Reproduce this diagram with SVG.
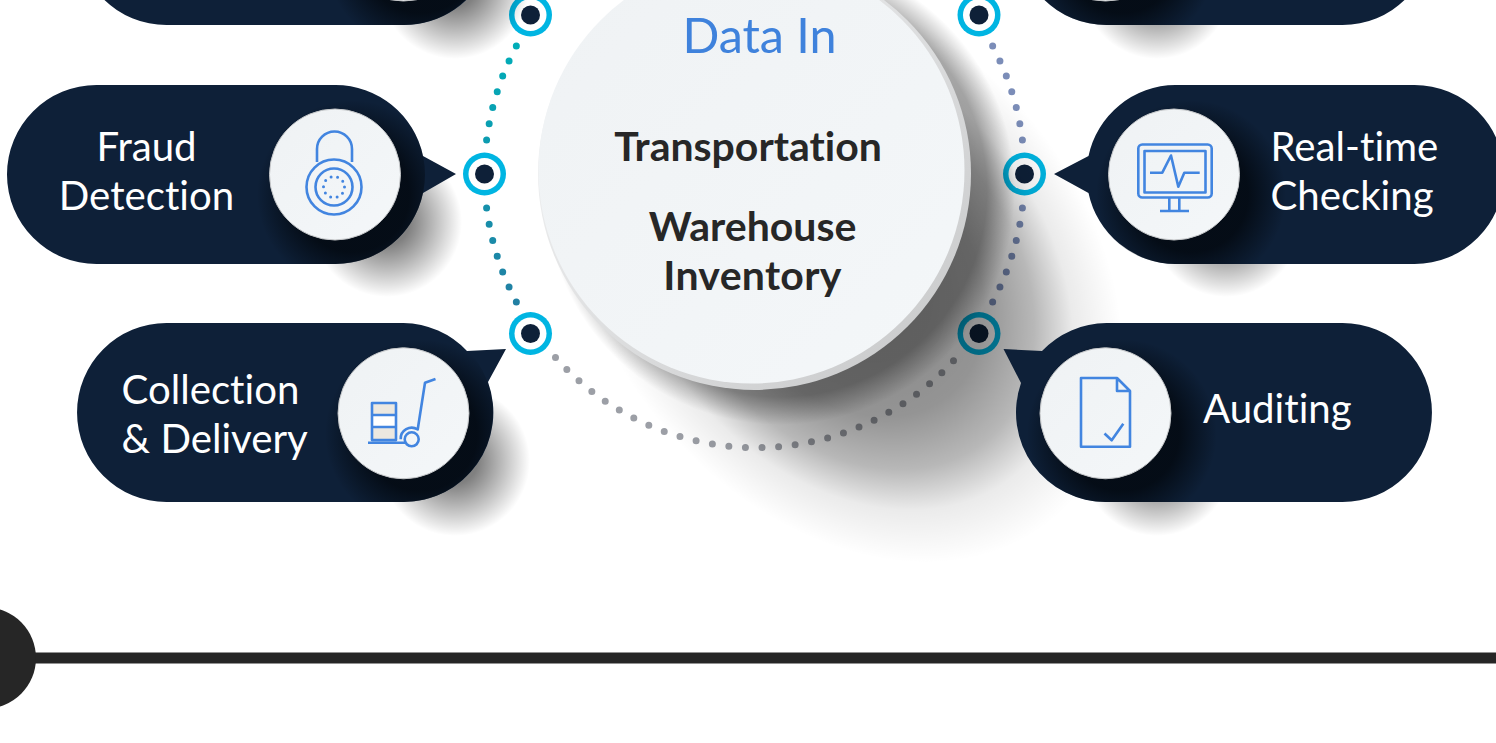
<svg xmlns="http://www.w3.org/2000/svg" width="1496" height="743" viewBox="0 0 1496 743">
<style>
text{font-family:Lato,"Liberation Sans",sans-serif;font-variant-ligatures:none}
.lbl{font-size:40.2px;fill:#fff;font-weight:400}
.hub{font-size:41px;fill:#272727;font-weight:700}
.pill{fill:#0e2038}
.pad{fill:url(#padShadow)}
.inner{fill:url(#innerShadow)}
.disc{fill:url(#discFill);stroke:#c4c6c8;stroke-width:1}
.ico{fill:none;stroke:#4285e0;stroke-width:2.6;stroke-linejoin:round}
.pins{fill:none;stroke:#4285e0;stroke-width:3;stroke-linecap:round;stroke-dasharray:0 6.6}
.dots{fill:none;stroke-width:7;stroke-linecap:round;stroke-dasharray:0 16.5}
.ro{fill:#00b5e2}.rw{fill:#fff}.rn{fill:#0e2038}
</style>
<defs>
<radialGradient id="padShadow"><stop offset="0.3" stop-color="#000" stop-opacity="0.5"/><stop offset="1" stop-color="#000" stop-opacity="0"/></radialGradient>
<radialGradient id="innerShadow"><stop offset="0.6" stop-color="#02070d" stop-opacity="0.78"/><stop offset="1" stop-color="#02070d" stop-opacity="0"/></radialGradient>
<radialGradient id="hubShadow"><stop offset="0" stop-color="#000" stop-opacity="0.5"/><stop offset="0.5" stop-color="#000" stop-opacity="0.42"/><stop offset="0.68" stop-color="#000" stop-opacity="0.28"/><stop offset="0.82" stop-color="#000" stop-opacity="0.08"/><stop offset="1" stop-color="#000" stop-opacity="0"/></radialGradient>
<radialGradient id="hubContact"><stop offset="0.88" stop-color="#000" stop-opacity="0.32"/><stop offset="1" stop-color="#000" stop-opacity="0"/></radialGradient>
<linearGradient id="discFill" x1="0" y1="0" x2="1" y2="1"><stop offset="0" stop-color="#eff2f4"/><stop offset="1" stop-color="#f4f7f9"/></linearGradient>
<linearGradient id="rim" x1="0.15" y1="0.15" x2="0.85" y2="0.85"><stop offset="0" stop-color="#f2f3f4"/><stop offset="0.55" stop-color="#dcddde"/><stop offset="1" stop-color="#cdcecf"/></linearGradient>
<linearGradient id="tealDots" gradientUnits="userSpaceOnUse" x1="0" y1="45" x2="0" y2="305"><stop offset="0" stop-color="#00adb8"/><stop offset="1" stop-color="#227fa3"/></linearGradient>
<clipPath id="cTL"><path d="M166.5,-154H403.5A89.5,89.5 0 1 1 403.5,25H166.5A89.5,89.5 0 0 1 166.5,-154Z"/></clipPath>
<clipPath id="cTR"><path d="M1106.5,-154H1342.5A89.5,89.5 0 1 1 1342.5,25H1106.5A89.5,89.5 0 0 1 1106.5,-154Z"/></clipPath>
<clipPath id="cF"><path d="M96.5,85H335.5A89.5,89.5 0 0 1 335.5,264H96.5A89.5,89.5 0 0 1 96.5,85Z"/></clipPath>
<clipPath id="cR"><path d="M1175.5,85H1414.5A89.5,89.5 0 0 1 1414.5,264H1175.5A89.5,89.5 0 0 1 1175.5,85Z"/></clipPath>
<clipPath id="cC"><path d="M166.5,323H403.5A89.5,89.5 0 0 1 403.5,502H166.5A89.5,89.5 0 0 1 166.5,323Z"/></clipPath>
<clipPath id="cA"><path d="M1106.5,323H1342.5A89.5,89.5 0 0 1 1342.5,502H1106.5A89.5,89.5 0 0 1 1106.5,323Z"/></clipPath>
</defs>
<rect width="1496" height="743" fill="#fff"/>

<g id="connectors">
<path class="dots" stroke="url(#tealDots)" d="M486.6,140A270,273 0 0 1 518,43"/>
<path class="dots" stroke="url(#tealDots)" d="M486.6,208A270,273 0 0 0 518,305"/>
<path class="dots" stroke="#7b8db8" d="M1022.4,140A270,273 0 0 0 991,43"/>
<path class="dots" stroke="#7b8db8" d="M1022.4,208A270,273 0 0 1 991,305"/>
<path class="dots" style="stroke-dasharray:0 16.6" stroke="#9c9fa6" d="M555.5,357.5A270,273 0 0 0 956.5,357.5"/>
</g>

<g id="port-1"><circle class="ro" cx="530.5" cy="15" r="21.5"/><circle class="rw" cx="530.5" cy="15" r="16"/><circle class="rn" cx="530.5" cy="15" r="9.5"/></g>
<g id="port-2"><circle class="ro" cx="484.5" cy="174" r="21.5"/><circle class="rw" cx="484.5" cy="174" r="16"/><circle class="rn" cx="484.5" cy="174" r="9.5"/></g>
<g id="port-3"><circle class="ro" cx="530.5" cy="333.5" r="21.5"/><circle class="rw" cx="530.5" cy="333.5" r="16"/><circle class="rn" cx="530.5" cy="333.5" r="9.5"/></g>
<g id="port-4"><circle class="ro" cx="979" cy="15" r="21.5"/><circle class="rw" cx="979" cy="15" r="16"/><circle class="rn" cx="979" cy="15" r="9.5"/></g>
<g id="port-5"><circle class="ro" cx="1024.5" cy="174" r="21.5"/><circle class="rw" cx="1024.5" cy="174" r="16"/><circle class="rn" cx="1024.5" cy="174" r="9.5"/></g>
<g id="port-6"><circle class="ro" cx="979" cy="333.5" r="21.5"/><circle class="rw" cx="979" cy="333.5" r="16"/><circle class="rn" cx="979" cy="333.5" r="9.5"/></g>

<ellipse id="hub-shadow" cx="845" cy="270" rx="325" ry="240" transform="rotate(50 845 270)" fill="url(#hubShadow)"/>
<circle id="hub-contact" cx="780" cy="190" r="235" fill="url(#hubContact)"/>

<g id="node-top-left">
<circle class="pad" cx="455" cy="-16" r="75"/>
<path class="pill" d="M166.5,-154H403.5A89.5,89.5 0 0 1 467,-2L506,-2L488,-33A89.5,89.5 0 0 1 403.5,25H166.5A89.5,89.5 0 0 1 166.5,-154Z"/>
<g clip-path="url(#cTL)"><circle class="inner" cx="420" cy="-44" r="95"/></g>
<circle class="disc" cx="403.5" cy="-64.5" r="65.5"/>
</g>

<g id="node-top-right">
<circle class="pad" cx="1157" cy="-16" r="75"/>
<path class="pill" d="M1106.5,-154H1342.5A89.5,89.5 0 0 1 1342.5,25H1106.5A89.5,89.5 0 0 1 1106.5,-154Z"/>
<g clip-path="url(#cTR)"><circle class="inner" cx="1122" cy="-44" r="95"/></g>
<circle class="disc" cx="1105.5" cy="-64.5" r="65.5"/>
</g>

<g id="node-fraud">
<circle class="pad" cx="387" cy="222" r="75"/>
<path class="pill" d="M96.5,85H335.5A89.5,89.5 0 0 1 423,156L456,174L423,193A89.5,89.5 0 0 1 335.5,264H96.5A89.5,89.5 0 0 1 96.5,85Z"/>
<g clip-path="url(#cF)"><circle class="inner" cx="352" cy="195" r="95"/></g>
<circle class="disc" cx="335" cy="174.5" r="65.5"/>
<path class="ico" d="M317,162V149A17.5,17.5 0 0 1 352,149V162"/>
<circle class="ico" cx="334" cy="187" r="27.5"/><circle class="ico" cx="334" cy="187" r="18.5"/>
<circle class="pins" cx="334" cy="187" r="10.5"/>
<text class="lbl" x="146.5" y="161" text-anchor="middle">Fraud</text>
<text class="lbl" x="146.5" y="210" text-anchor="middle">Detection</text>
</g>

<g id="node-realtime">
<circle class="pad" cx="1226" cy="222" r="75"/>
<path class="pill" d="M1175.5,85H1414.5A89.5,89.5 0 0 1 1414.5,264H1175.5A89.5,89.5 0 0 1 1088.5,193L1054,174L1088.5,156A89.5,89.5 0 0 1 1175.5,85Z"/>
<g clip-path="url(#cR)"><circle class="inner" cx="1191" cy="195" r="95"/></g>
<circle class="disc" cx="1174" cy="174.5" r="65.5"/>
<rect class="ico" x="1138.3" y="144.5" width="73.4" height="53" rx="4"/>
<rect class="ico" x="1144.5" y="151" width="61" height="41.5"/>
<path class="ico" d="M1150,172.7H1162.3L1171,155.5L1178.3,186.7L1184.3,172.7H1199.7"/>
<path class="ico" d="M1169.3,198V211M1179.3,198V211M1160,211H1189"/>
<text class="lbl" x="1270.5" y="161">Real-time</text>
<text class="lbl" x="1270.5" y="210">Checking</text>
</g>

<g id="node-collection">
<circle class="pad" cx="455" cy="461" r="75"/>
<path class="pill" d="M166.5,323H403.5A89.5,89.5 0 0 1 467,351L506,349L488,382A89.5,89.5 0 0 1 403.5,502H166.5A89.5,89.5 0 0 1 166.5,323Z"/>
<g clip-path="url(#cC)"><circle class="inner" cx="420" cy="434" r="95"/></g>
<circle class="disc" cx="403.5" cy="413.3" r="65.5"/>
<rect x="372" y="403" width="24" height="12" fill="#ece8e0"/><rect x="372" y="415" width="24" height="12" fill="#fff"/><rect x="372" y="427" width="24" height="13" fill="#ece8e0"/>
<path class="ico" d="M372,403H396V440H372ZM372,415H396M372,427H396M368,442.8H405"/>
<circle class="ico" cx="411.7" cy="439.3" r="7"/>
<path class="ico" d="M400.7,439.3A11,11 0 0 1 417.7,429.5L425,382.7L435.5,379"/>
<text class="lbl" x="121.5" y="404">Collection</text>
<text class="lbl" x="121.5" y="453">&amp; Delivery</text>
</g>

<g id="node-auditing">
<circle class="pad" cx="1157" cy="461" r="75"/>
<path class="pill" d="M1106.5,323H1342.5A89.5,89.5 0 0 1 1342.5,502H1106.5A89.5,89.5 0 0 1 1021,383L1003.5,349L1042,351A89.5,89.5 0 0 1 1106.5,323Z"/>
<g clip-path="url(#cA)"><circle class="inner" cx="1122" cy="434" r="95"/></g>
<circle class="disc" cx="1105.5" cy="413.3" r="65.5"/>
<path class="ico" d="M1081,378H1117L1130,391V446.7H1081ZM1117,378V391H1130"/>
<path class="ico" d="M1104.5,433.5L1111.7,440.3L1123.3,423.7"/>
<text class="lbl" x="1203" y="423">Auditing</text>
</g>

<g id="node-hub">
<circle cx="754.5" cy="173.5" r="216.5" fill="url(#rim)"/>
<circle cx="751.5" cy="170.5" r="213" fill="url(#discFill)"/>
<text x="759.5" y="53" text-anchor="middle" font-size="48.5" fill="#3f82dc">Data In</text>
<text class="hub" x="748" y="161" text-anchor="middle">Transportation</text>
<text class="hub" x="752.5" y="241" text-anchor="middle">Warehouse</text>
<text class="hub" x="752.5" y="290" text-anchor="middle" letter-spacing="0.3">Inventory</text>
</g>

<g id="timeline">
<rect x="20" y="652.5" width="1476" height="11" fill="#262626"/>
<circle cx="-14.5" cy="658" r="50.5" fill="#262626"/>
</g>
</svg>
